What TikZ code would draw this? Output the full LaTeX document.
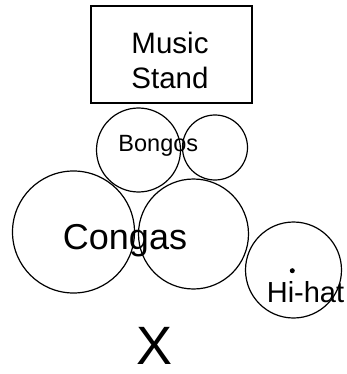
\documentclass[tikz,border=0pt]{standalone}
\usepackage{fontspec}
\setmainfont{Liberation Sans}
\usepackage{tikz}
\usetikzlibrary{positioning}

\tikzset{
  drum/.style={circle, draw, line width=1.2pt, inner sep=0pt},
  standbox/.style={rectangle, draw, line width=1.3pt, inner sep=0pt,
    minimum width=161pt, minimum height=97pt},
  drumlabel/.style={inner sep=0pt, anchor=base}
}

\begin{document}
\begin{tikzpicture}[x=1pt, y=-1pt]
  \useasboundingbox (0,0) rectangle (347,374);
  % music stand
  \node[standbox] (stand) at (171.5, 54.5) {};
  \node[inner sep=0pt, align=center, font=\fontsize{29.5}{35}\selectfont] (standlbl) at (170, 60.5) {Music\\Stand};
  % bongos
  \node[drum, minimum size=84pt] (bongoL) at (138.5, 150) {};
  \node[drum, minimum size=65pt] (bongoR) at (215, 147.5) {};
  \node[drumlabel, font=\fontsize{23.5}{28}\selectfont] (bongolbl) at (158.3, 151.5) {Bongos};
  % congas
  \node[drum, minimum size=122pt] (congaL) at (73.5, 232) {};
  \node[drum, minimum size=110pt] (congaR) at (193.5, 234) {};
  \node[drumlabel, font=\fontsize{36}{42}\selectfont] (congalbl) at (125, 249.3) {Congas};
  % hi-hat
  \node[drum, minimum size=96pt] (hihat) at (293.5, 270) {};
  \node[circle, fill, inner sep=0pt, minimum size=5pt] (hihatdot) at (292.3, 270.7) {};
  \node[drumlabel, font=\fontsize{29}{34}\selectfont] (hihatlbl) at (305.5, 302) {Hi-hat};
  % player
  \node[drumlabel, font=\fontsize{54}{60}\selectfont] (player) at (155, 364) {X};
\end{tikzpicture}
\end{document}
